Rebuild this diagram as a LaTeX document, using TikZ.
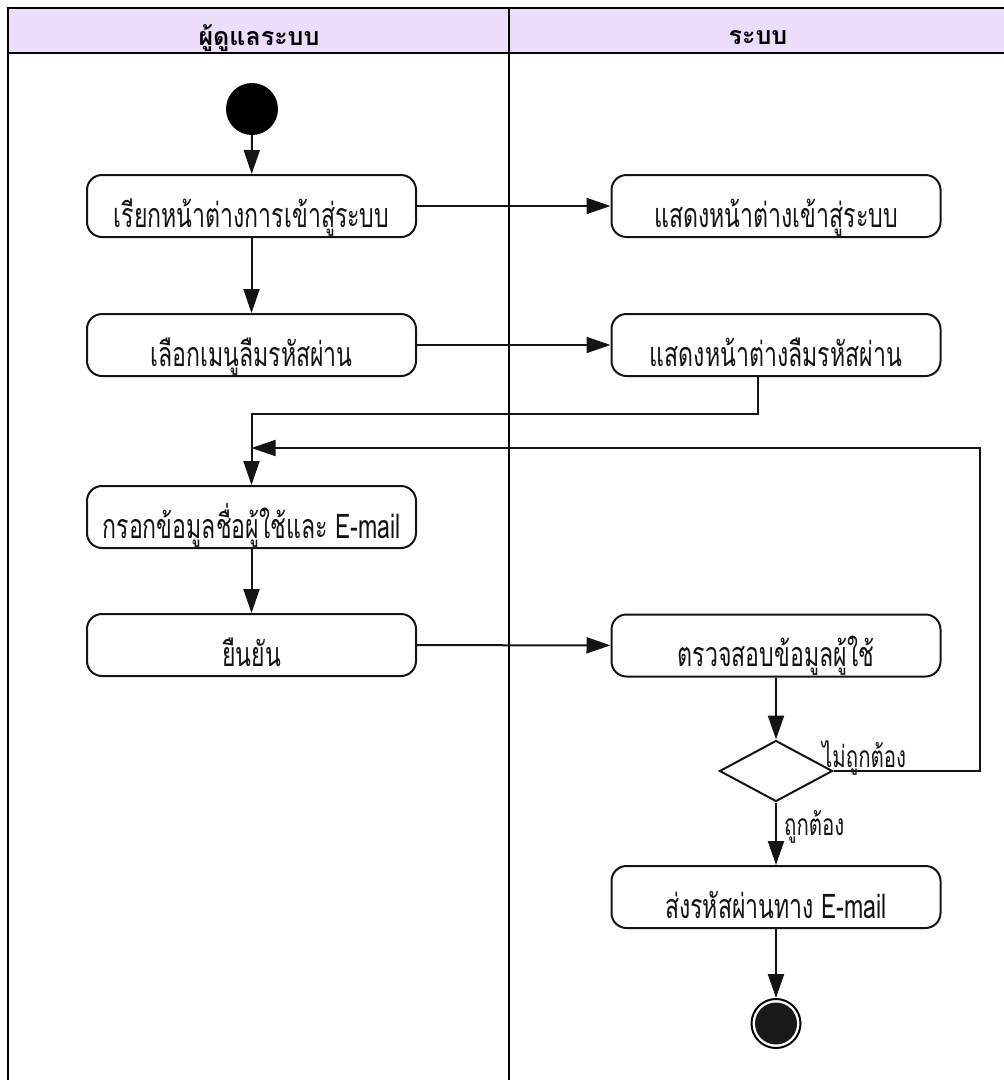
\documentclass[tikz,border=0pt]{standalone}
\usepackage{fontspec}
\newfontfamily\thaifont[Script=Thai, FakeStretch=0.68]{Loma}
\newfontfamily\thaihead[Script=Thai]{Loma}
\usetikzlibrary{arrows.meta,shapes.geometric,calc}
\definecolor{lanehead}{RGB}{236,221,252}
\definecolor{ink}{RGB}{20,20,20}
\begin{document}
\begin{tikzpicture}[x=1pt,y=-1pt,
  act/.style={draw=ink, line width=2pt, rounded corners=15pt,
    minimum width=329pt, minimum height=62pt, inner sep=0pt,
    text height=42pt, text depth=0pt, text=ink,
    font=\thaifont\fontsize{34}{38}\selectfont},
  flow/.style={draw=ink, line width=2pt, -{Triangle[length=24pt,width=16pt]}},
  lane/.style={draw=black, line width=2.4pt},
  headtxt/.style={anchor=base, inner sep=0pt, text=black,
    font=\thaihead\bfseries\fontsize{25}{29}\selectfont},
  lbl/.style={anchor=base west, inner sep=0pt, text=ink,
    font=\thaifont\fontsize{30}{34}\selectfont}
]
\useasboundingbox (0,0) rectangle (1004,1080);
% swimlanes
\fill[lanehead] (8,8) rectangle (1004,53);
\draw[lane] (1004,8) -- (8,8) -- (8,1080);
\draw[lane] (8,53) -- (1004,53);
\draw[lane] (509,8) -- (509,1080);
\node[headtxt] (h1) at (259,45) {ผู้ดูแลระบบ};
\node[headtxt] (h2) at (758,44) {ระบบ};

% start
\node[circle, fill=black, minimum size=52pt, inner sep=0pt] (start) at (252,109) {};

% left lane
\node[act] (a1) at (251.5,206) {เรียกหน้าต่างการเข้าสู่ระบบ};
\node[act] (a2) at (251.5,345) {เลือกเมนูลืมรหัสผ่าน};
\node[act] (a3) at (251.5,517) {กรอกข้อมูลชื่อผู้ใช้และ E-mail};
\node[act] (a4) at (251.5,645) {ยืนยัน};

% right lane
\node[act] (b1) at (776,206) {แสดงหน้าต่างเข้าสู่ระบบ};
\node[act] (b2) at (776,345) {แสดงหน้าต่างลืมรหัสผ่าน};
\node[act] (b3) at (776,645.5) {ตรวจสอบข้อมูลผู้ใช้};
\node[draw=ink, line width=2pt, diamond, minimum width=113pt, minimum height=61pt, inner sep=0pt] (d) at (776,771) {};
\node[act] (b5) at (776,897) {ส่งรหัสผ่านทาง E-mail};

% end
\node[circle, draw=black, line width=2pt, fill=white, minimum size=49pt, inner sep=0pt] (endo) at (776,1023.5) {};
\node[circle, fill=black!90, minimum size=42pt, inner sep=0pt] (endi) at (endo) {};

% connectors
\draw[flow] (start) -- (a1);
\draw[flow] (a1) -- (a2);
\draw[flow] (a1) -- (b1);
\draw[flow] (a2) -- (b2);
\coordinate (b2drop) at ($(b2.south)+(-18,0)$);
\coordinate (jn) at (b2drop |- 0,414);
\draw[flow] (b2drop) -- (jn) -| (a3.north);
\draw[flow] (a3) -- (a4);
\draw[flow] (a4) -- (b3);
\draw[flow] (b3) -- (d);
\coordinate (loopr) at (980,771);
\coordinate (loopt) at (980,448);
\draw[flow] (d.east) -- (loopr) -- (loopt) -- (a3.north |- loopt);
\draw[flow] (d) -- (b5);
\draw[flow] (b5) -- (endo);

% guard labels
\node[lbl] (ng) at (822,767) {ไม่ถูกต้อง};
\node[lbl] (ok) at (784,835) {ถูกต้อง};
\end{tikzpicture}
\end{document}
